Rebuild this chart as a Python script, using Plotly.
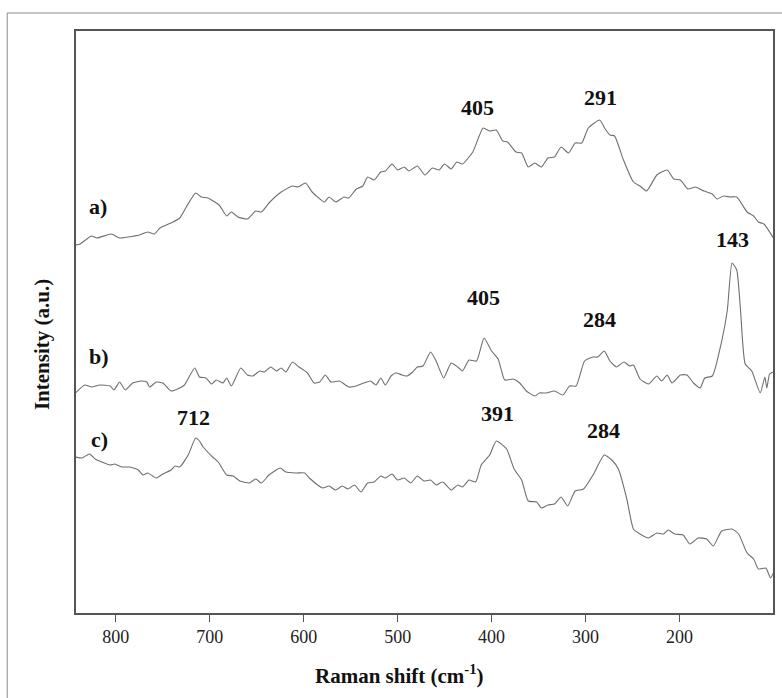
import plotly.graph_objects as go

# Raman shift (cm-1) and intensity (a.u.)
a_x = [843,838,826,820,805,796,787,775,766,759,753,739,732,725,715,709,702,690,682,677,
       670,660,651,645,637,624,612,606,598,591,578,573,566,557,552,544,537,532,525,518,
       513,506,500,493,488,479,471,463,456,450,443,437,431,420,409,402,395,388,383,374,
       368,361,354,347,340,333,326,318,311,304,297,285,279,274,269,260,249,242,235,224,
       213,206,199,191,183,174,165,160,153,146,139,128,121,116,110,100]
a_y = [368,369,377,375,379,375,376,378,381,379,385,391,395,406,420,416,415,408,397,401,
       396,394,402,401,410,421,427,426,430,421,411,416,411,416,415,424,427,436,433,441,
       442,449,443,446,442,447,438,445,443,449,444,451,449,461,485,482,483,472,471,461,
       460,446,450,446,455,456,466,460,470,470,485,493,484,478,477,454,431,427,422,438,
       443,434,433,424,426,422,419,414,417,416,416,401,397,391,389,375]

b_x = [843,833,826,817,806,802,796,790,782,773,767,764,757,750,741,732,727,716,711,704,
       698,693,686,682,677,667,660,654,647,642,635,629,624,619,612,605,596,589,583,577,
       571,562,552,544,536,529,523,518,513,507,502,495,490,484,479,473,465,459,451,443,
       436,431,424,416,408,400,393,386,377,370,363,354,349,342,333,324,317,310,301,292,
       287,280,274,267,259,253,249,242,233,224,219,213,208,199,192,185,178,173,165,155,
       149,144,139,135,130,123,114,109,107,104,100]
b_y = [220,228,226,228,227,223,231,223,230,232,231,226,231,230,222,225,228,245,236,235,
       229,233,230,235,227,245,238,237,242,241,246,242,245,241,251,246,240,230,231,238,
       231,232,226,227,230,232,228,235,228,237,240,238,237,241,246,247,261,252,235,250,
       246,242,253,252,275,262,254,233,234,230,222,217,220,220,222,218,227,227,252,256,
       256,262,252,246,251,247,248,234,229,237,232,238,230,238,238,230,225,235,237,272,
       303,350,343,303,249,242,220,236,225,239,241]

c_x = [843,836,828,822,815,806,801,794,785,776,771,766,757,750,741,737,732,723,715,711,
       707,697,691,682,675,668,658,651,645,637,625,619,608,599,594,580,573,566,559,553,
       546,539,532,525,518,513,506,500,493,486,479,472,465,459,452,443,436,431,424,417,
       411,402,395,384,376,368,361,352,347,340,333,326,319,311,302,292,280,272,265,256,
       249,242,233,224,217,212,205,196,189,180,171,164,155,144,137,128,121,116,108,103,100]
c_y = [156,155,159,154,151,148,149,146,146,143,138,140,135,139,143,147,146,158,175,172,
       166,156,151,138,137,132,130,134,130,138,145,141,140,140,135,125,127,123,127,124,
       128,121,130,131,137,135,139,133,135,130,137,132,133,128,131,123,128,126,133,131,
       148,158,172,164,144,133,112,111,105,108,109,116,107,122,124,138,158,153,144,114,
       84,79,75,80,79,83,79,78,69,75,74,67,82,84,79,60,54,44,45,35,40]

# Series labels: text, x (cm-1), intensity
series_labels = ["a)", "b)", "c)"]
series_label_x = [831, 831, 829]
series_label_y = [407, 257, 174]

# Peak labels
peak_text = ["405", "291", "405", "284", "143", "712", "391", "284"]
peak_x = [415, 284, 409, 285, 144, 717, 394, 281]
peak_y = [506, 516, 316, 294, 374, 196, 200, 183]

x_ticks = [800, 700, 600, 500, 400, 300, 200]

SERIF = "Liberation Serif, Times New Roman, serif"
LINE = "#6f6f6f"
AX = "#555555"

fig = go.Figure()
for xs, ys in [(a_x, a_y), (b_x, b_y), (c_x, c_y)]:
    fig.add_trace(go.Scatter(x=xs, y=ys, mode="lines",
                             line=dict(color=LINE, width=1.1, shape="spline", smoothing=0.5),
                             showlegend=False, hoverinfo="skip"))

annotations = []
for t, x, y in zip(series_labels, series_label_x, series_label_y):
    annotations.append(dict(x=x, y=y, xref="x", yref="y", text="<b>%s</b>" % t,
                            showarrow=False, xanchor="left", yanchor="middle",
                            font=dict(family=SERIF, size=22, color="#111")))
for t, x, y in zip(peak_text, peak_x, peak_y):
    annotations.append(dict(x=x, y=y, xref="x", yref="y", text="<b>%s</b>" % t,
                            showarrow=False, xanchor="center", yanchor="middle",
                            font=dict(family=SERIF, size=22, color="#111")))
annotations.append(dict(x=0.4635, y=-0.1065, xref="paper", yref="paper",
                        text="<b>Raman shift (cm<sup>-1</sup>)</b>", showarrow=False,
                        xanchor="center", yanchor="middle",
                        font=dict(family=SERIF, size=21, color="#111")))
annotations.append(dict(x=-0.0486, y=0.4605, xref="paper", yref="paper",
                        text="<b>Intensity (a.u.)</b>", showarrow=False, textangle=-90,
                        xanchor="center", yanchor="middle",
                        font=dict(family=SERIF, size=21, color="#111")))

W, H = 782, 698
L, R, T, B = 76, 7, 31, 85
pw, ph = W - L - R, H - T - B
def px(xp):
    return (xp - L) / pw
def py(yp):
    return (H - B - yp) / ph

shapes = [
    dict(type="line", xref="paper", yref="paper", x0=px(7), x1=px(790), y0=py(13), y1=py(13),
         line=dict(color="#8a8a8a", width=1)),
    dict(type="line", xref="paper", yref="paper", x0=px(7), x1=px(7), y0=py(13), y1=py(705),
         line=dict(color="#8a8a8a", width=1)),
]

fig.update_layout(
    width=W, height=H,
    margin=dict(l=L, r=R, t=T, b=B),
    paper_bgcolor="white", plot_bgcolor="white",
    annotations=annotations, shapes=shapes,
    xaxis=dict(range=[842.4, 100.4], tickvals=x_ticks, ticks="outside", ticklen=7,
               tickwidth=1.3, tickcolor=AX, showline=True, linecolor=AX, linewidth=1.5,
               mirror=True, showgrid=False, zeroline=False,
               tickfont=dict(family=SERIF, size=18, color="#222")),
    yaxis=dict(range=[0, 582], showticklabels=False, ticks="", showline=True,
               linecolor=AX, linewidth=1.5, mirror=True, showgrid=False, zeroline=False),
)

fig.write_html("out.html")
